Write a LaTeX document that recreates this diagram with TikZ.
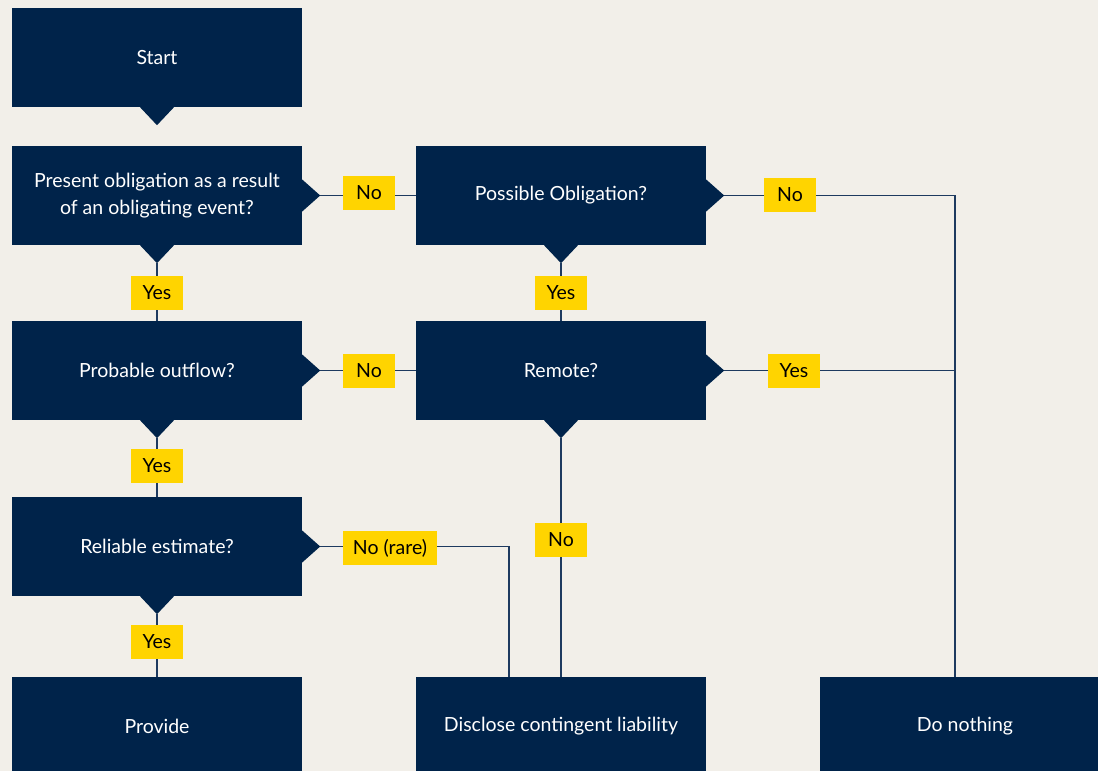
\documentclass[tikz,border=0pt]{standalone}
\usepackage{fontspec}
\setmainfont{Lato}
\usetikzlibrary{calc}
\definecolor{navy}{HTML}{00234A}
\definecolor{bg}{HTML}{F2EFE9}
\definecolor{ylw}{HTML}{FFD400}
\definecolor{lne}{HTML}{1E3A5F}
\tikzset{
  box/.style={fill=navy, text=white, minimum width=290pt, minimum height=99pt, inner sep=0pt, align=center, font=\fontsize{19.5}{27}\selectfont},
  lbl/.style={fill=ylw, text=black, minimum height=34pt, minimum width=52pt, inner sep=3pt, font=\fontsize{19.5}{22}\selectfont},
  conn/.style={draw=lne, line width=1.2pt},
}
\newcommand\botptr[1]{%
  \fill[navy] ($(#1.south)+(-17,0)$) -- ($(#1.south)+(0,18)$) -- ($(#1.south)+(17,0)$) -- cycle;
  \coordinate (#1-b) at ($(#1.south)+(0,18)$);}
\newcommand\rtptr[1]{%
  \fill[navy] ($(#1.east)+(0,-16)$) -- ($(#1.east)+(18,0)$) -- ($(#1.east)+(0,16)$) -- cycle;
  \coordinate (#1-r) at ($(#1.east)+(18,0)$);}
\begin{document}
\begin{tikzpicture}[x=1pt,y=-1pt]
\fill[bg] (0,0) rectangle (1098,771);
\useasboundingbox (0,0) rectangle (1098,771);
\begin{scope}
\clip (0,0) rectangle (1098,771);
% boxes
\node[box] (start) at (157,57.5) {Start};
\node[box] (q1) at (157,195.5) {Present obligation as a result\\of an obligating event?};
\node[box] (q2) at (561,195.5) {Possible Obligation?};
\node[box] (q3) at (157,370.5) {Probable outflow?};
\node[box] (q4) at (561,370.5) {Remote?};
\node[box] (q5) at (157,546.5) {Reliable estimate?};
\node[box] (prov) at (157,726.5) {Provide};
\node[box] (disc) at (561,726.5) {Disclose contingent liability};
\node[box] (noth) at (965,726.5) {Do nothing};
% pointers
\botptr{start}
\botptr{q1}\rtptr{q1}
\botptr{q2}\rtptr{q2}
\botptr{q3}\rtptr{q3}
\botptr{q4}\rtptr{q4}
\botptr{q5}\rtptr{q5}
% corner coordinates
\coordinate (c1) at (955,195.5);
\coordinate (c2) at (955,370.5);
\coordinate (c3) at (509,546.5);
% connectors
\draw[conn] (q1-r) -- (q2.west);
\draw[conn] (q1-b) -- (q3.north);
\draw[conn] (q2-r) -- (c1) -- (noth.north -| c1);
\draw[conn] (q2-b) -- (q4.north);
\draw[conn] (q3-r) -- (q4.west);
\draw[conn] (q3-b) -- (q5.north);
\draw[conn] (q4-r) -- (c2);
\draw[conn] (q4-b) -- (disc.north);
\draw[conn] (q5-r) -- (c3) -- (disc.north -| c3);
\draw[conn] (q5-b) -- (prov.north);
% labels
\node[lbl] (l1) at (369,193) {No};
\node[lbl] (l2) at (157,293) {Yes};
\node[lbl] (l3) at (790,195) {No};
\node[lbl] (l4) at (561,293) {Yes};
\node[lbl] (l5) at (369,371) {No};
\node[lbl] (l6) at (794,371) {Yes};
\node[lbl] (l7) at (157,466) {Yes};
\node[lbl] (l8) at (561,540) {No};
\node[lbl, minimum width=94pt] (l9) at (390,548) {No (rare)};
\node[lbl] (l10) at (157,642) {Yes};
\end{scope}
\end{tikzpicture}
\end{document}
